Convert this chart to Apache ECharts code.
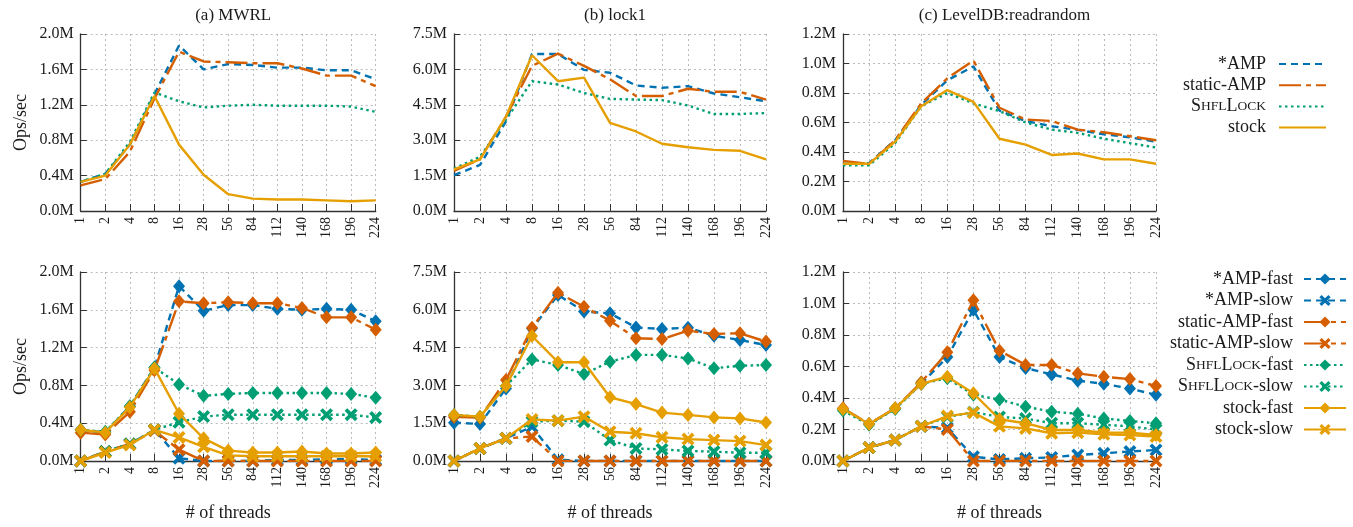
<!DOCTYPE html>
<html><head><meta charset="utf-8">
<script src="https://cdn.jsdelivr.net/npm/echarts@6/dist/echarts.min.js"></script>
<style>html,body{margin:0;padding:0;background:#fff}#c{width:1353px;height:527px}</style>
</head><body><div id="c"></div>
<script>
const categories = ['1','2','4','8','16','28','56','84','112','140','168','196','224'];
const titles = ['(a) MWRL','(b) lock1','(c) LevelDB:readrandom'];
const yMax = [2.0, 7.5, 1.2];
const yStep = [0.4, 1.5, 0.2];

// top row (M ops/sec)
const a_amp    = [0.33,0.42,0.75,1.32,1.87,1.60,1.66,1.65,1.62,1.62,1.59,1.59,1.49];
const a_static = [0.29,0.36,0.67,1.27,1.80,1.69,1.68,1.67,1.67,1.61,1.53,1.53,1.41];
const a_shfl   = [0.33,0.42,0.78,1.34,1.24,1.17,1.19,1.20,1.19,1.19,1.19,1.18,1.12];
const a_stock  = [0.33,0.40,0.75,1.30,0.75,0.41,0.19,0.14,0.13,0.13,0.12,0.11,0.12];

const b_amp    = [1.52,1.95,3.80,6.65,6.65,5.98,5.86,5.32,5.22,5.29,4.98,4.82,4.65];
const b_static = [1.70,2.20,4.00,6.15,6.67,6.15,5.58,4.87,4.87,5.18,5.05,5.05,4.72];
const b_shfl   = [1.80,2.30,3.87,5.50,5.36,5.00,4.75,4.72,4.70,4.47,4.11,4.11,4.15];
const b_stock  = [1.76,2.19,4.00,6.60,5.50,5.65,3.73,3.37,2.85,2.70,2.59,2.55,2.19];

const c_amp    = [0.32,0.325,0.48,0.72,0.886,0.98,0.68,0.61,0.575,0.55,0.52,0.50,0.47];
const c_static = [0.34,0.32,0.48,0.73,0.90,1.02,0.70,0.62,0.61,0.552,0.534,0.507,0.48];
const c_shfl   = [0.31,0.31,0.46,0.71,0.80,0.73,0.677,0.60,0.552,0.53,0.49,0.46,0.43];
const c_stock  = [0.32,0.32,0.47,0.71,0.82,0.74,0.49,0.45,0.38,0.39,0.35,0.35,0.32];

// bottom row (M ops/sec)
const a_amp_fast    = [0.33,0.30,0.58,0.99,1.85,1.59,1.65,1.65,1.61,1.60,1.61,1.60,1.48];
const a_amp_slow    = [0.00,0.10,0.18,0.33,0.03,0.00,0.00,0.00,0.01,0.01,0.02,0.02,0.01];
const a_static_fast = [0.30,0.28,0.52,0.96,1.69,1.67,1.68,1.67,1.67,1.62,1.52,1.52,1.39];
const a_static_slow = [0.00,0.10,0.18,0.32,0.12,0.00,0.00,0.00,0.00,0.00,0.00,0.00,0.00];
const a_shfl_fast   = [0.33,0.31,0.58,0.99,0.81,0.69,0.71,0.72,0.72,0.72,0.72,0.71,0.67];
const a_shfl_slow   = [0.00,0.10,0.18,0.33,0.41,0.47,0.49,0.49,0.49,0.49,0.49,0.49,0.46];
const a_stock_fast  = [0.33,0.30,0.57,0.98,0.50,0.24,0.11,0.09,0.09,0.10,0.08,0.08,0.09];
const a_stock_slow  = [0.00,0.09,0.17,0.33,0.25,0.15,0.06,0.05,0.05,0.05,0.05,0.05,0.05];

const b_amp_fast    = [1.52,1.47,2.88,5.26,6.59,5.93,5.86,5.30,5.24,5.29,4.97,4.80,4.60];
const b_amp_slow    = [0.00,0.50,0.90,1.36,0.05,0.00,0.00,0.00,0.00,0.00,0.00,0.00,0.00];
const b_static_fast = [1.75,1.72,3.21,5.29,6.68,6.12,5.57,4.87,4.84,5.17,5.04,5.07,4.74];
const b_static_slow = [0.00,0.50,0.90,0.97,0.00,0.00,0.00,0.00,0.00,0.00,0.00,0.00,0.00];
const b_shfl_fast   = [1.83,1.76,2.98,4.03,3.81,3.45,3.94,4.21,4.21,4.07,3.68,3.78,3.81];
const b_shfl_slow   = [0.00,0.50,0.90,1.56,1.60,1.56,0.83,0.50,0.46,0.40,0.37,0.33,0.33];
const b_stock_fast  = [1.83,1.76,2.98,4.96,3.92,3.92,2.53,2.26,1.92,1.83,1.73,1.69,1.53];
const b_stock_slow  = [0.00,0.50,0.90,1.65,1.60,1.76,1.16,1.10,0.94,0.87,0.83,0.79,0.63];

const c_amp_fast    = [0.33,0.235,0.334,0.49,0.66,0.96,0.66,0.59,0.55,0.51,0.49,0.46,0.42];
const c_amp_slow    = [0.00,0.085,0.133,0.22,0.21,0.027,0.01,0.017,0.023,0.038,0.049,0.06,0.07];
const c_static_fast = [0.335,0.235,0.335,0.50,0.69,1.02,0.70,0.61,0.61,0.556,0.535,0.52,0.476];
const c_static_slow = [0.00,0.085,0.133,0.22,0.20,0.00,0.00,0.00,0.00,0.00,0.00,0.00,0.00];
const c_shfl_fast   = [0.32,0.23,0.33,0.49,0.525,0.42,0.39,0.345,0.313,0.30,0.27,0.254,0.24];
const c_shfl_slow   = [0.00,0.085,0.133,0.22,0.28,0.31,0.28,0.27,0.24,0.24,0.23,0.22,0.20];
const c_stock_fast  = [0.33,0.235,0.335,0.49,0.535,0.43,0.265,0.24,0.197,0.197,0.18,0.18,0.165];
const c_stock_slow  = [0.00,0.085,0.133,0.22,0.285,0.307,0.22,0.207,0.176,0.18,0.17,0.165,0.155];

const FONT = 'Liberation Serif';
const TXT = '#1a1a1a';
const COL = {amp:'#0072B2', stat:'#D55E00', shfl:'#009E73', stock:'#E69F00'};
const DASH = {amp:[7,5], stat:[22,5,5,5], shfl:[2.5,3.5], stock:'solid'};
const XSYM = 'path://M2,0 L5,3 L8,0 L10,2 L7,5 L10,8 L8,10 L5,7 L2,10 L0,8 L3,5 L0,2 Z';

const gridsPx = [
  {left:80.7, width:295, top:34, height:177},
  {left:454, width:312, top:34, height:177},
  {left:843, width:313, top:34, height:177},
  {left:80.7, width:295, top:272, height:189},
  {left:454, width:312, top:272, height:189},
  {left:843, width:313, top:272, height:189}
];

const grid = gridsPx.map(g => ({left:g.left, width:g.width, top:g.top, height:g.height, containLabel:false}));
const xAxis = gridsPx.map((g,i) => ({
  type:'category', gridIndex:i, data:categories, boundaryGap:false,
  axisLine:{lineStyle:{color:'#333', width:1.3}},
  axisTick:{inside:true, length:7, lineStyle:{color:'#333'}},
  axisLabel:{rotate:90, fontFamily:FONT, fontSize:14, color:TXT, margin:6},
  splitLine:{show:true, lineStyle:{type:[2,3], color:'#bbb', width:1}},
  name: i>=3 ? '# of threads' : '', nameLocation:'middle', nameGap:43,
  nameTextStyle:{fontFamily:FONT, fontSize:18, color:TXT}
}));
const yAxis = gridsPx.map((g,i) => ({
  type:'value', gridIndex:i, min:0, max:yMax[i%3], interval:yStep[i%3],
  axisLine:{show:true, lineStyle:{color:'#333', width:1.3}},
  axisTick:{show:true, inside:true, length:6, lineStyle:{color:'#333'}},
  axisLabel:{fontFamily:FONT, fontSize:16, color:TXT, margin:7, formatter:v => v.toFixed(1)+'M'},
  splitLine:{show:true, lineStyle:{type:[2,3], color:'#bbb', width:1}},
  name: (i%3===0) ? 'Ops/sec' : '', nameLocation:'middle', nameGap:50,
  nameTextStyle:{fontFamily:FONT, fontSize:18, color:TXT}
}));

const topSets = [[a_amp,a_static,a_shfl,a_stock],[b_amp,b_static,b_shfl,b_stock],[c_amp,c_static,c_shfl,c_stock]];
const botSets = [
  [a_amp_fast,a_amp_slow,a_static_fast,a_static_slow,a_shfl_fast,a_shfl_slow,a_stock_fast,a_stock_slow],
  [b_amp_fast,b_amp_slow,b_static_fast,b_static_slow,b_shfl_fast,b_shfl_slow,b_stock_fast,b_stock_slow],
  [c_amp_fast,c_amp_slow,c_static_fast,c_static_slow,c_shfl_fast,c_shfl_slow,c_stock_fast,c_stock_slow]
];
const topNames = ['*AMP','static-AMP','ShflLock','stock'];
const keys = ['amp','stat','shfl','stock'];
const botNames = ['*AMP-fast','*AMP-slow','static-AMP-fast','static-AMP-slow','ShflLock-fast','ShflLock-slow','stock-fast','stock-slow'];

const series = [];
topSets.forEach((set, p) => {
  set.forEach((d, k) => {
    series.push({
      type:'line', name:topNames[k], xAxisIndex:p, yAxisIndex:p, data:d,
      symbol:'none', lineStyle:{color:COL[keys[k]], width:2.4, type:DASH[keys[k]]},
      itemStyle:{color:COL[keys[k]]}, animation:false, z:2+k
    });
  });
});
botSets.forEach((set, p) => {
  set.forEach((d, k) => {
    const key = keys[Math.floor(k/2)];
    const fast = k%2===0;
    series.push({
      type:'line', name:botNames[k], xAxisIndex:p+3, yAxisIndex:p+3, data:d,
      symbol: fast ? 'diamond' : XSYM, symbolSize: fast ? [12,14] : 13,
      showAllSymbol:true,
      lineStyle:{color:COL[key], width:2.4, type:DASH[key]},
      itemStyle:{color:COL[key]}, animation:false, z:2+k
    });
  });
});

const rich = {
  n:{fontFamily:FONT, fontSize:18, color:TXT, lineHeight:14},
  s:{fontFamily:FONT, fontSize:13.5, color:TXT, lineHeight:14}
};
function fmt(name){
  if (name.indexOf('ShflLock') === 0) {
    return '{n|S}{s|HFL}{n|L}{s|OCK}{n|' + name.slice(8) + '}';
  }
  return '{n|' + name + '}';
}

const option = {
  backgroundColor:'#fff',
  title: titles.map((t,i) => ({
    text:t, left: gridsPx[i].left + gridsPx[i].width/2, top:2, textAlign:'center',
    textStyle:{fontFamily:FONT, fontSize:17, fontWeight:'normal', color:TXT}
  })),
  grid, xAxis, yAxis, series,
  legend:[
    {data:topNames, orient:'vertical', right:21, top:50, align:'right',
     itemWidth:47, itemHeight:14, itemGap:3.2, formatter:fmt,
     itemStyle:{opacity:0},
     textStyle:{fontFamily:FONT, fontSize:18, color:TXT, lineHeight:14, rich, padding:[0,8,0,0]},
     selectedMode:false},
    {data:botNames, orient:'vertical', right:1, top:265, align:'right',
     itemWidth:42, itemHeight:14, itemGap:3.5, formatter:fmt,
     textStyle:{fontFamily:FONT, fontSize:18, color:TXT, lineHeight:14, rich, padding:[0,6,0,0]},
     selectedMode:false}
  ]
};
const chart = echarts.init(document.getElementById('c'), null, {renderer:'canvas'});
chart.setOption(option);
</script></body></html>
